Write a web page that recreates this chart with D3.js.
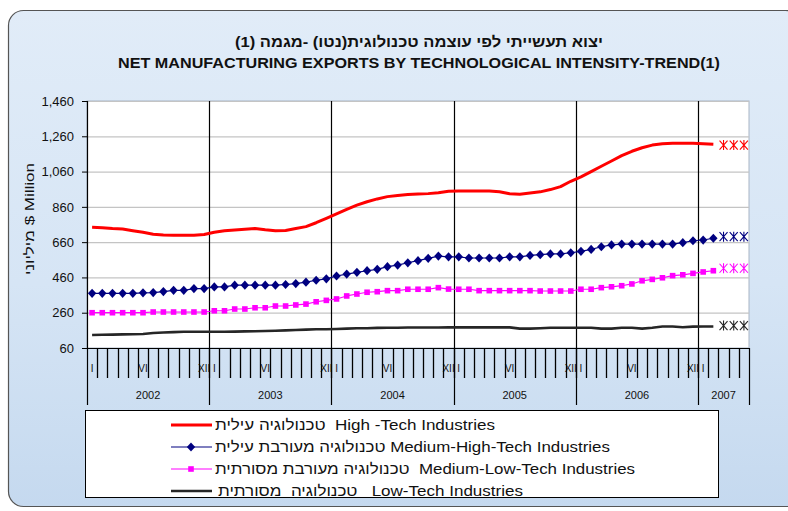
<!DOCTYPE html>
<html><head><meta charset="utf-8">
<script src="https://cdn.jsdelivr.net/npm/d3@7/dist/d3.min.js"></script>
<style>
html,body{margin:0;padding:0;background:#fff;}
svg{display:block;font-family:"Liberation Sans",Arial,sans-serif;}
</style>
</head><body>
<svg id="c" width="788" height="511"></svg>
<script>
// ---------- data ----------
const monthLabels = [
  "I","","","","","VI","","","","","","XII",
  "I","","","","","VI","","","","","","XII",
  "I","","","","","VI","","","","","","XII",
  "I","","","","","VI","","","","","","XII",
  "I","","","","","VI","","","","","","XII",
  "I","","","",""
];
const years = ["2002","2003","2004","2005","2006","2007"];
const monthsPerYear = [12,12,12,12,12,5];
const yTicks = [60,260,460,660,860,1060,1260,1460];

const highTech = [744,742,737,734,725,716,705,700,699,699,699,703,
  716,724,729,733,737,730,725,726,737,748,770,795,
  820,846,870,889,905,918,925,930,933,935,940,948,
  950,950,950,950,946,934,932,938,945,958,975,1005,
  1030,1060,1090,1120,1150,1175,1195,1210,1218,1220,1220,1220,
  1218,1215];
const medHighTech = [370,370,370,370,370,373,374,380,387,387,397,397,
  406,406,416,416,416,416,416,420,425,433,444,452,
  468,479,489,498,506,521,530,543,555,568,581,577,
  577,570,570,570,570,577,577,585,589,593,593,600,
  608,619,634,644,649,649,649,649,649,649,657,668,
  672,682];
const medLowTech = [260,260,260,260,260,260,264,264,264,264,264,264,
  271,271,281,281,288,288,298,298,304,309,322,330,
  338,355,366,376,379,385,385,393,393,393,402,394,
  393,393,385,385,385,385,385,385,383,383,383,383,
  393,393,402,407,413,423,441,449,458,470,475,483,
  491,498];
const lowTech = [134,135,136,137,138,139,145,148,150,152,152,152,
  152,152,153,154,155,156,158,160,162,164,166,166,
  168,170,172,172,174,175,175,176,176,176,176,177,
  177,177,177,177,177,177,170,170,172,175,175,175,
  175,175,170,170,175,175,170,175,182,182,178,181,
  182,182];
// preliminary months (star markers)
const highTechPrelim = [1210,1210,1210];
const medHighTechPrelim = [691,691,691];
const medLowTechPrelim = [512,512,512];
const lowTechPrelim = [187,187,187];

const seriesNames = [
  "טכנולוגיה עילית  High -Tech Industries",
  "טכנולוגיה מעורבת עילית Medium-High-Tech Industries",
  "טכנולוגיה מעורבת מסורתית  Medium-Low-Tech Industries",
  "טכנולוגיה  מסורתית   Low-Tech Industries"
];
const titleHe = "יצוא תעשייתי לפי עוצמה טכנולוגית(נטו) -מגמה (1)";
const titleEn = "NET MANUFACTURING EXPORTS BY TECHNOLOGICAL INTENSITY-TREND(1)";
const yTitle = "מיליוני $ Million";

// ---------- drawing ----------
const svg = d3.select("#c");
const defs = svg.append("defs");
const grad = defs.append("linearGradient").attr("id","bg").attr("x1",0).attr("y1",0).attr("x2",0).attr("y2",1);
grad.append("stop").attr("offset","0%").attr("stop-color","#e1ecf8");
grad.append("stop").attr("offset","55%").attr("stop-color","#d6e5f5");
grad.append("stop").attr("offset","100%").attr("stop-color","#c5d9ef");

svg.append("rect").attr("x",8.5).attr("y",10.5).attr("width",792).attr("height",496)
  .attr("rx",15).attr("fill","url(#bg)").attr("stroke","#555").attr("stroke-width",1.2);

const L = 87, R = 749, T = 101, B = 348;
const x = d3.scaleBand().domain(d3.range(monthLabels.length)).range([L,R]).padding(0);
const cx = i => x(i) + x.bandwidth()/2;
const y = d3.scaleLinear().domain([60,1460]).range([B,T]);

// titles
svg.append("text").attr("x",419).attr("y",47).attr("text-anchor","middle")
  .attr("direction","rtl").attr("font-weight","bold").attr("font-size",15).attr("fill","#111")
  .attr("textLength",368).attr("lengthAdjust","spacingAndGlyphs").text(titleHe);
svg.append("text").attr("x",419).attr("y",68).attr("text-anchor","middle")
  .attr("font-weight","bold").attr("font-size",15).attr("fill","#111")
  .attr("textLength",602).attr("lengthAdjust","spacingAndGlyphs").text(titleEn);

// plot area
svg.append("rect").attr("x",L).attr("y",T).attr("width",R-L).attr("height",B-T)
  .attr("fill","#fff").attr("stroke","#a8b4c4").attr("stroke-width",1);

// y axis + gridlines
const yAxisG = svg.append("g").attr("transform",`translate(${L},0)`)
  .call(d3.axisLeft(y).tickValues(yTicks).tickSize(5).tickPadding(8).tickFormat(d3.format(",")));
yAxisG.select(".domain").remove();
yAxisG.selectAll(".tick line").attr("stroke","#000");
yAxisG.selectAll(".tick text").attr("font-size",13).attr("fill","#111")
  .attr("font-family","Liberation Sans, Arial, sans-serif");
svg.append("g").selectAll("line").data(yTicks.filter(v=>v>60)).join("line")
  .attr("x1",L).attr("x2",R).attr("y1",d=>y(d)+0.5).attr("y2",d=>y(d)+0.5)
  .attr("stroke","#c4c4c4").attr("stroke-width",1.2);

// x axis: month labels and ticks between categories
const xAxisG = svg.append("g").attr("transform",`translate(0,${B})`)
  .call(d3.axisBottom(x).tickSize(0).tickPadding(17).tickFormat(i=>monthLabels[i]));
xAxisG.select(".domain").remove();
xAxisG.selectAll(".tick text").attr("font-size",10).attr("fill","#111")
  .attr("font-family","Liberation Sans, Arial, sans-serif");
svg.append("g").selectAll("line").data(d3.range(1,monthLabels.length)).join("line")
  .attr("x1",i=>Math.round(x(i))+0.5).attr("x2",i=>Math.round(x(i))+0.5)
  .attr("y1",B).attr("y2",B+30).attr("stroke","#000").attr("stroke-width",1.3);

// year boundaries
const yearStarts = [];
let acc = 0;
monthsPerYear.forEach(n=>{ yearStarts.push(acc); acc += n; });
const boundaryIdx = yearStarts.slice(1);
svg.append("g").selectAll("line").data(boundaryIdx).join("line")
  .attr("x1",i=>Math.round(x(i))+0.5).attr("x2",i=>Math.round(x(i))+0.5)
  .attr("y1",T).attr("y2",405).attr("stroke","#000").attr("stroke-width",1.2);
svg.append("line").attr("x1",R+0.5).attr("x2",R+0.5).attr("y1",B).attr("y2",405).attr("stroke","#000").attr("stroke-width",1.2);
svg.append("line").attr("x1",L+0.5).attr("x2",L+0.5).attr("y1",T).attr("y2",405).attr("stroke","#000").attr("stroke-width",1.2);
svg.append("line").attr("x1",L).attr("x2",R).attr("y1",B+0.5).attr("y2",B+0.5).attr("stroke","#000").attr("stroke-width",1.2);
svg.append("g").selectAll("text").data(years).join("text")
  .attr("x",(d,k)=>{const s=yearStarts[k], e=s+monthsPerYear[k]-1; return (x(s)+x(e)+x.bandwidth())/2;})
  .attr("y",399).attr("text-anchor","middle").attr("font-size",11).attr("fill","#111").text(d=>d);

// y title
svg.append("text").attr("transform","translate(34,219) rotate(-90)").attr("text-anchor","middle")
  .attr("font-size",13).attr("fill","#111").attr("direction","ltr")
  .attr("textLength",112).attr("lengthAdjust","spacingAndGlyphs").text(yTitle);

// series
const series = [
  {vals:highTech, pre:highTechPrelim, color:"#ff0000", width:3, marker:null},
  {vals:medHighTech, pre:medHighTechPrelim, color:"#000080", width:1.2, marker:"diamond"},
  {vals:medLowTech, pre:medLowTechPrelim, color:"#ff00ff", width:1.2, marker:"square"},
  {vals:lowTech, pre:lowTechPrelim, color:"#262626", width:2.6, marker:null}
];
const line = d3.line().x((d,i)=>cx(i)).y(d=>y(d));
const diamondPath = "M0,-4.6L4.2,0L0,4.6L-4.2,0Z";
const squarePath = "M-2.8,-2.8H2.8V2.8H-2.8Z";
const starPath = "M-4,-4.5L4,4.5M-4,4.5L4,-4.5M0,-5L0,5";

const plotG = svg.append("g");
series.slice().reverse().forEach(s=>{
  plotG.append("path").datum(s.vals).attr("d",line).attr("fill","none")
    .attr("stroke",s.color).attr("stroke-width",s.width).attr("stroke-linejoin","round");
  if (s.marker) {
    plotG.append("g").selectAll("path").data(s.vals).join("path")
      .attr("transform",(d,i)=>`translate(${cx(i)},${y(d)})`)
      .attr("d", s.marker==="diamond"?diamondPath:squarePath).attr("fill",s.color);
  }
  const off = s.vals.length;
  plotG.append("g").selectAll("path").data(s.pre).join("path")
    .attr("transform",(d,i)=>`translate(${cx(off+i)},${y(d)})`)
    .attr("d",starPath).attr("fill","none").attr("stroke",s.color).attr("stroke-width",1.1);
});

// legend
const lg = svg.append("g");
lg.append("rect").attr("x",85.5).attr("y",410.5).attr("width",633).attr("height",87)
  .attr("fill","#fff").attr("stroke","#000").attr("stroke-width",1);
const legY = [425,447,469,491];
const legLen = [280,395,420,305];
const legX = [215,215,215,218];
series.forEach((s,k)=>{
  lg.append("line").attr("x1",171).attr("x2",212).attr("y1",legY[k]).attr("y2",legY[k])
    .attr("stroke",s.color).attr("stroke-width",s.width);
  if (s.marker) lg.append("path").attr("transform",`translate(191,${legY[k]})`)
    .attr("d", s.marker==="diamond"?diamondPath:squarePath).attr("fill",s.color);
  lg.append("text").attr("x",legX[k]).attr("y",legY[k]+5).attr("font-size",15).attr("fill","#111")
    .style("white-space","pre").attr("textLength",legLen[k]).attr("lengthAdjust","spacingAndGlyphs")
    .text(seriesNames[k]);
});
</script>
</body></html>
